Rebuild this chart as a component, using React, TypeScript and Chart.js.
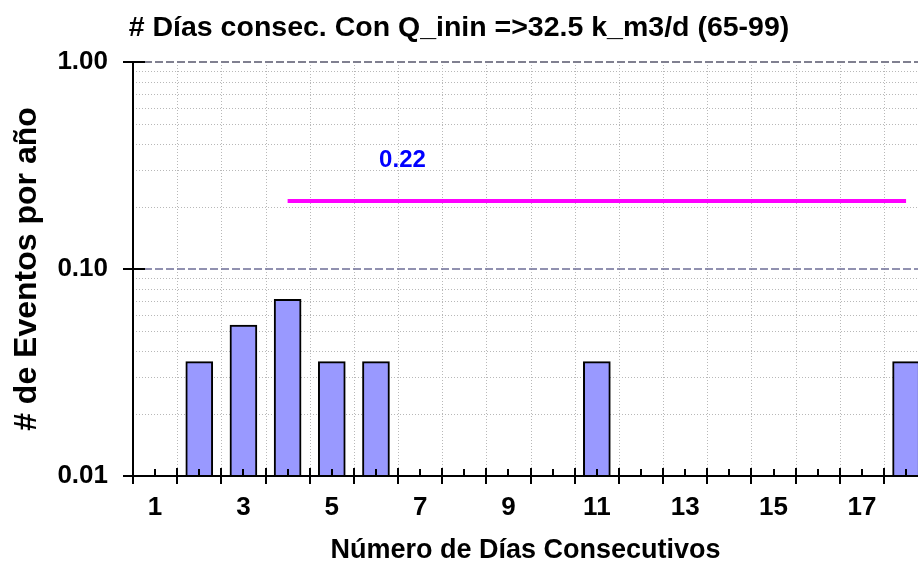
import React, { useEffect, useRef } from 'react';
import { Chart, registerables } from 'chart.js';

Chart.register(...registerables);

const chartTitle = '# Días consec. Con Q_inin =>32.5 k_m3/d (65-99)';
const xTitle = 'Número de Días Consecutivos';
const yTitle = '# de Eventos por año';

const days = [2, 3, 4, 5, 6, 11, 18];
const eventsPerYear = [0.0357, 0.0536, 0.0714, 0.0357, 0.0357, 0.0357, 0.0357];

const xTickLabels = [1, 3, 5, 7, 9, 11, 13, 15, 17];
const yTickValues = [0.01, 0.1, 1];
const yMajorGrid = [0.1, 1];
const yMinorGrid = [0.02, 0.03, 0.04, 0.05, 0.06, 0.07, 0.08, 0.09, 0.2, 0.3, 0.4, 0.5, 0.6, 0.7, 0.8, 0.9];
const categoryCount = 18;

const refStart = 4;
const refEnd = 18;
const refValue = 0.213;
const refText = '0.22';
const refTextX = 6.6;
const refTextY = 0.335;

const xMin = 0.5;
const xMax = 18.27;

const FONT = 'Arial, "Liberation Sans", sans-serif';

const decorPlugin = {
  id: 'decor',
  beforeDatasetsDraw(chart: any) {
    const { ctx, chartArea: a, scales } = chart;
    const x = scales.x;
    const y = scales.y;
    const seg = (x1: number, y1: number, x2: number, y2: number) => {
      ctx.beginPath();
      ctx.moveTo(x1, y1);
      ctx.lineTo(x2, y2);
      ctx.stroke();
    };
    ctx.save();
    ctx.lineWidth = 1;
    ctx.strokeStyle = '#b8b8b8';
    ctx.setLineDash([1, 2]);
    for (const v of yMinorGrid) {
      const py = Math.round(y.getPixelForValue(v)) + 0.5;
      seg(a.left, py, a.right, py);
    }
    for (let d = 1; d <= categoryCount; d++) {
      const b = d + 0.5;
      if (b >= xMax) continue;
      const px = Math.round(x.getPixelForValue(b)) + 0.5;
      seg(px, a.top, px, a.bottom);
    }
    ctx.setLineDash([8, 3]);
    for (const v of yMajorGrid) {
      const py = Math.round(y.getPixelForValue(v));
      ctx.lineWidth = v === 1 ? 2 : 1.5;
      ctx.strokeStyle = v === 1 ? '#808090' : '#6e6e96';
      seg(a.left, py, a.right, py);
    }
    ctx.restore();
  },
  afterDatasetsDraw(chart: any) {
    const { ctx, chartArea: a, scales } = chart;
    const x = scales.x;
    const y = scales.y;
    const seg = (x1: number, y1: number, x2: number, y2: number) => {
      ctx.beginPath();
      ctx.moveTo(x1, y1);
      ctx.lineTo(x2, y2);
      ctx.stroke();
    };
    ctx.save();
    ctx.strokeStyle = '#000';
    ctx.lineWidth = 2;
    ctx.setLineDash([]);
    // axes
    seg(a.left, a.top, a.left, a.bottom + 1);
    seg(a.left - 1, a.bottom, a.right, a.bottom);
    // y ticks
    for (const v of yTickValues) {
      const py = Math.round(y.getPixelForValue(v));
      seg(a.left - 10, py, a.left + 12, py);
    }
    // x ticks: boundaries (major) and category centers (minor)
    for (let d = 0; d <= categoryCount; d++) {
      const b = d + 0.5;
      if (b > xMax) continue;
      const px = Math.round(x.getPixelForValue(b));
      seg(px, a.bottom - 8, px, a.bottom + 8);
    }
    for (let d = 1; d <= categoryCount; d++) {
      const px = Math.round(x.getPixelForValue(d));
      seg(px, a.bottom - 7, px, a.bottom);
    }
    // reference label
    ctx.fillStyle = '#0000ff';
    ctx.font = 'bold 24px ' + FONT;
    ctx.textAlign = 'center';
    ctx.textBaseline = 'middle';
    ctx.fillText(refText, x.getPixelForValue(refTextX), y.getPixelForValue(refTextY));
    ctx.restore();
  },
};

export default function App() {
  const canvasRef = useRef<HTMLCanvasElement | null>(null);

  useEffect(() => {
    const canvas = canvasRef.current;
    if (!canvas) return;
    const tickFont = { family: FONT, size: 26, weight: 'bold' as const };
    const chart = new Chart(canvas, {
      type: 'bar',
      data: {
        datasets: [
          {
            type: 'line' as const,
            data: [
              { x: refStart, y: refValue },
              { x: refEnd, y: refValue },
            ],
            borderColor: '#ff00ff',
            borderWidth: 4,
            pointRadius: 0,
            order: 0,
          } as any,
          {
            type: 'bar' as const,
            data: days.map((d, i) => ({ x: d, y: eventsPerYear[i] })),
            backgroundColor: '#9999ff',
            borderColor: '#000000',
            borderWidth: 2,
            barThickness: 27,
            order: 1,
          } as any,
        ],
      },
      options: {
        responsive: false,
        animation: false,
        layout: { padding: 0 },
        plugins: {
          legend: { display: false },
          tooltip: { enabled: false },
          title: {
            display: true,
            text: chartTitle,
            color: '#000',
            font: { family: FONT, size: 28.5, weight: 'bold' },
            padding: { top: 11, bottom: 16.8 },
          },
        },
        scales: {
          x: {
            type: 'linear',
            offset: false,
            min: xMin,
            max: xMax,
            afterBuildTicks: (s: any) => {
              s.ticks = xTickLabels.map((v) => ({ value: v }));
            },
            afterFit: (s: any) => {
              s.height = 100;
            },
            grid: { display: false, drawTicks: false, offset: false },
            border: { display: false },
            ticks: {
              color: '#000',
              font: tickFont,
              padding: 16,
              autoSkip: false,
              maxRotation: 0,
              callback: (v: any) => String(v),
            },
            title: {
              display: true,
              text: xTitle,
              color: '#000',
              font: { family: FONT, size: 27, weight: 'bold' },
              padding: { top: 0, bottom: 9 },
            },
          },
          y: {
            type: 'logarithmic',
            min: 0.01,
            max: 1,
            afterBuildTicks: (s: any) => {
              s.ticks = yTickValues.map((v) => ({ value: v }));
            },
            afterFit: (s: any) => {
              s.width = 133;
            },
            grid: { display: false, drawTicks: false },
            border: { display: false },
            ticks: {
              color: '#000',
              font: tickFont,
              padding: 25,
              callback: (v: any) => Number(v).toFixed(2),
            },
            title: {
              display: true,
              text: yTitle,
              color: '#000',
              font: { family: FONT, size: 32, weight: 'bold' },
              padding: { top: 8, bottom: 0 },
            },
          },
        },
      } as any,
      plugins: [decorPlugin],
    });
    return () => chart.destroy();
  }, []);

  return (
    <div style={{ position: 'absolute', left: 0, top: 0, width: 918, height: 576, background: '#fff' }}>
      <canvas ref={canvasRef} width={918} height={576} style={{ width: 918, height: 576 }} />
    </div>
  );
}
